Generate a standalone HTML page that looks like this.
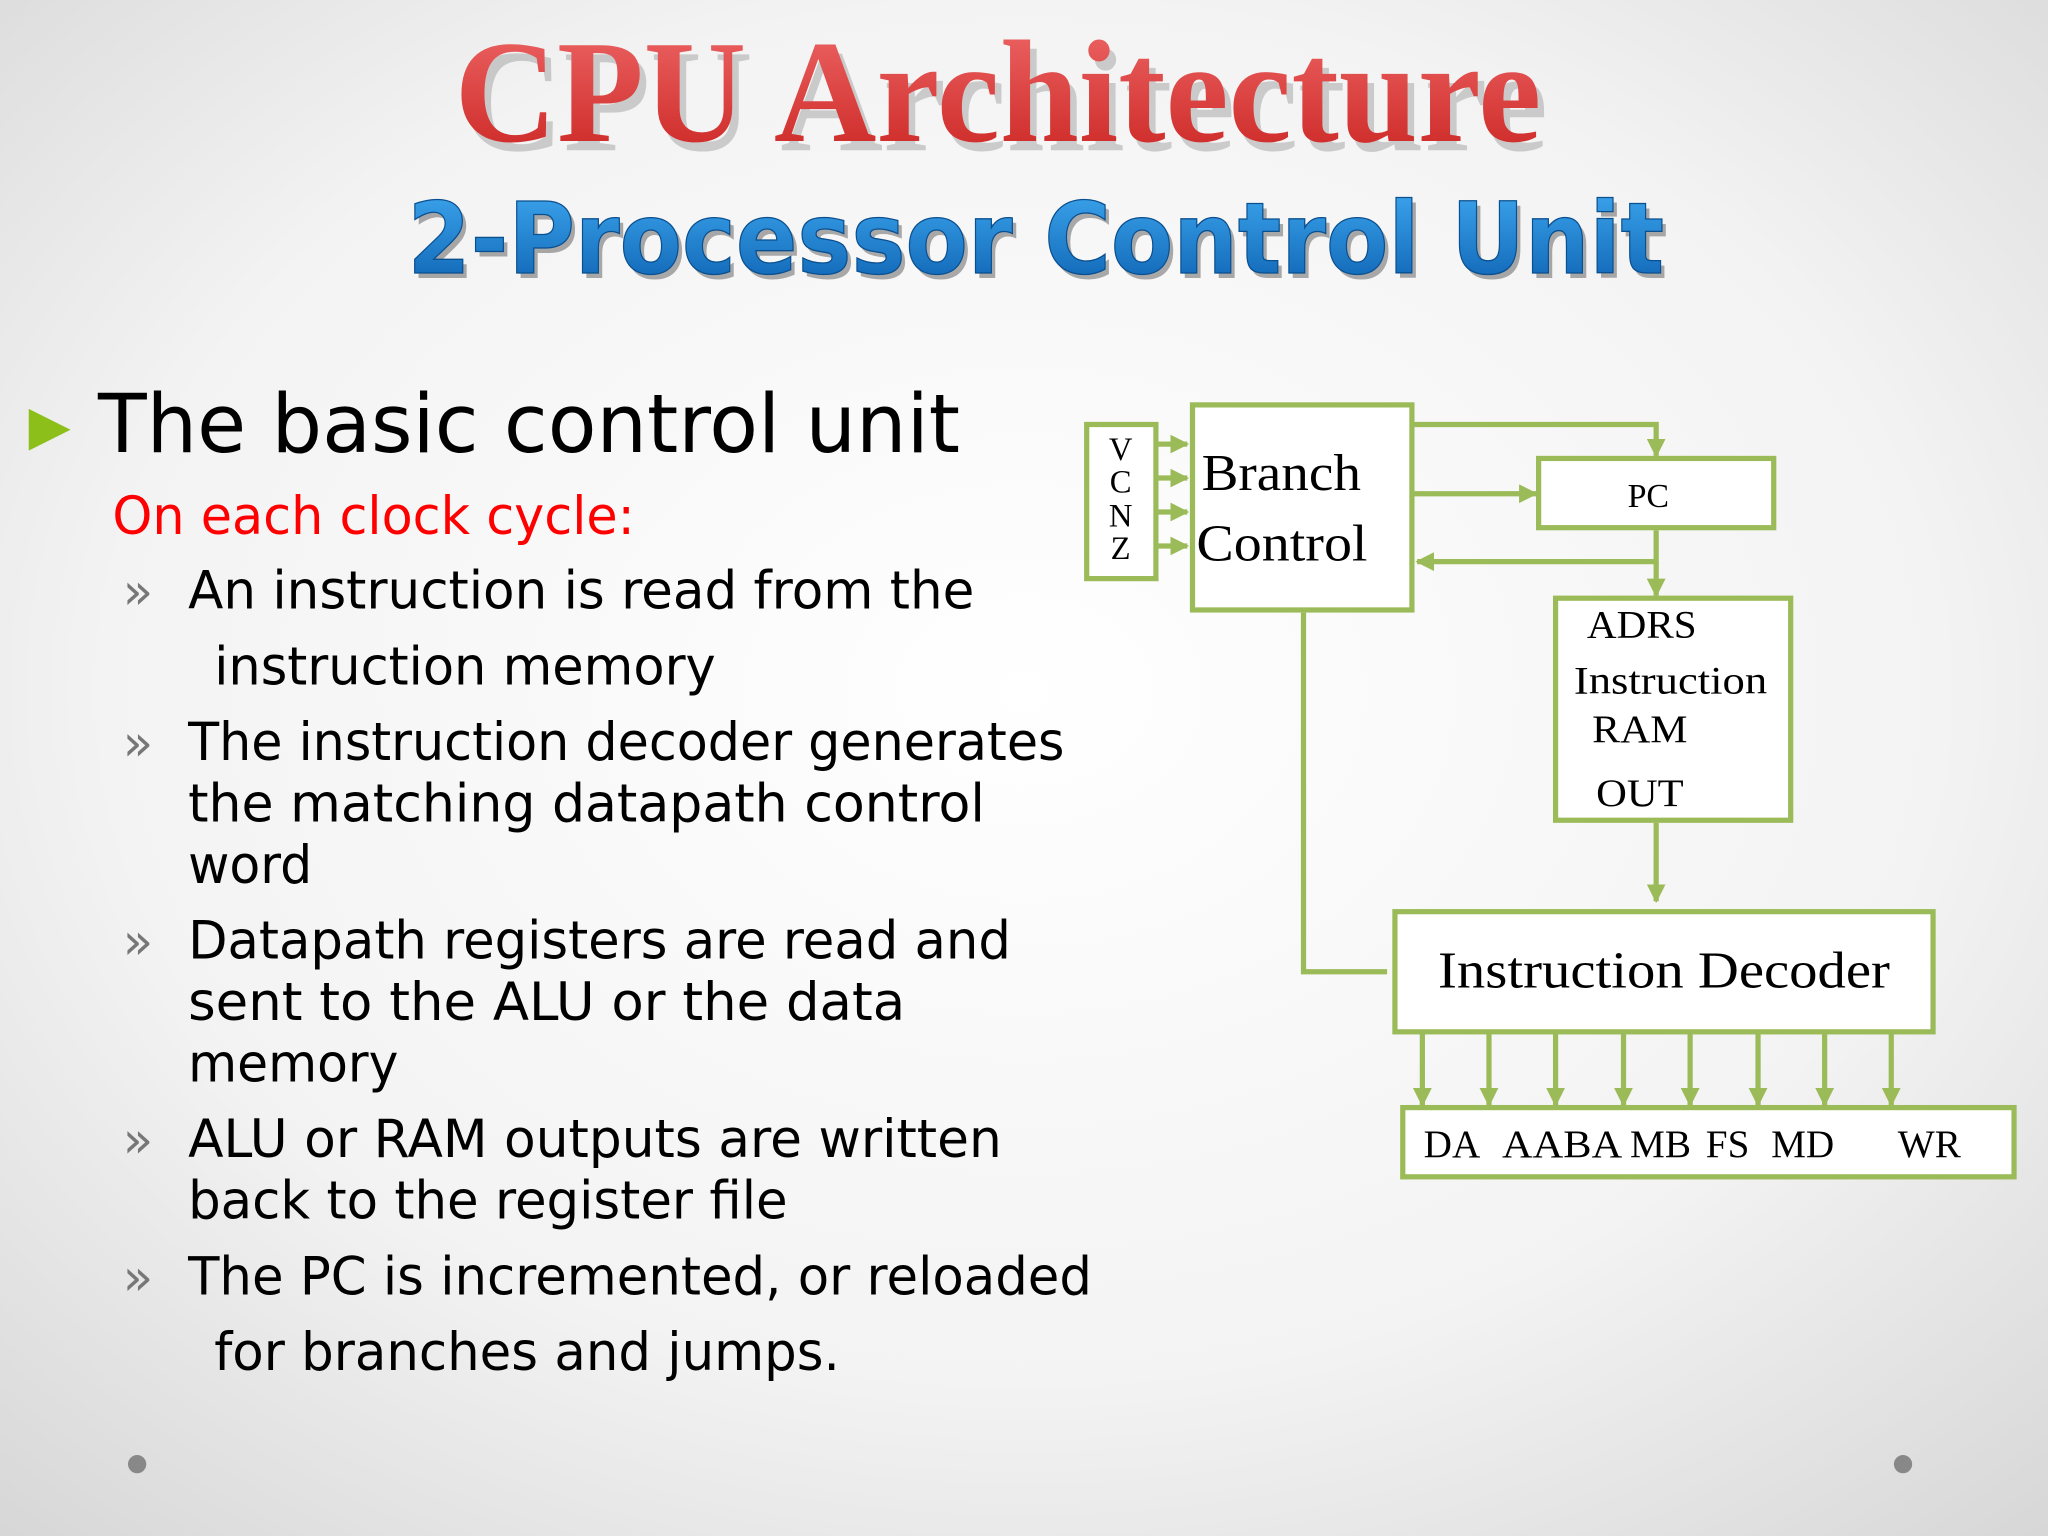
<!DOCTYPE html>
<html><head><meta charset="utf-8"><style>
html,body{margin:0;padding:0;width:2048px;height:1536px;overflow:hidden}
svg{display:block}
</style></head><body>
<svg width="2048" height="1536" viewBox="0 0 1568 1176" xmlns="http://www.w3.org/2000/svg">
<defs>
<radialGradient id="bg" cx="50%" cy="45%" r="75%">
<stop offset="0" stop-color="#ffffff"/><stop offset="0.6" stop-color="#f3f3f3"/><stop offset="1" stop-color="#d6d6d6"/>
</radialGradient>
<linearGradient id="red" x1="0" y1="0" x2="0" y2="1">
<stop offset="0" stop-color="#ef6a6a"/><stop offset="1" stop-color="#c9221f"/>
</linearGradient>
<linearGradient id="blue" x1="0" y1="0" x2="0" y2="1">
<stop offset="0" stop-color="#3fa9f0"/><stop offset="1" stop-color="#0b5fb0"/>
</linearGradient>
<marker id="ar" viewBox="0 0 10 10" refX="9" refY="5" markerWidth="3.6" markerHeight="3.6" orient="auto" markerUnits="strokeWidth">
<path d="M0,0 L10,5 L0,10 z" fill="#9bbb59"/></marker>
</defs>
<rect width="1568" height="1176" fill="url(#bg)"/>

<g font-family="Liberation Serif, serif" font-weight="bold">
<text x="350" y="111" font-size="112" fill="#999" opacity="0.45" textLength="832" lengthAdjust="spacingAndGlyphs" transform="translate(3,4)">CPU Architecture</text>
<text x="348" y="108" font-size="112" fill="url(#red)" textLength="832" lengthAdjust="spacingAndGlyphs">CPU Architecture</text>
</g>
<g font-family="DejaVu Sans, Liberation Sans, sans-serif" font-weight="bold">
<text x="315" y="213" font-size="76" fill="#333" opacity="0.4" textLength="962" lengthAdjust="spacingAndGlyphs">2-Processor Control Unit</text>
<text x="312" y="209" font-size="76" fill="url(#blue)" stroke="#0a4f8f" stroke-width="1" textLength="962" lengthAdjust="spacingAndGlyphs">2-Processor Control Unit</text>
</g>

<polygon points="22,313 54,329 22,345" fill="#8cbf1a"/>
<g font-family="DejaVu Sans, Liberation Sans, sans-serif">
<text x="75" y="346" font-size="62" fill="#000" textLength="660" lengthAdjust="spacingAndGlyphs">The basic control unit</text>
<text x="86" y="409" font-size="40" fill="#f00" textLength="400" lengthAdjust="spacingAndGlyphs">On each clock cycle:</text>
<g font-size="40" fill="#000">
<text x="144" y="466" textLength="602" lengthAdjust="spacingAndGlyphs">An instruction is read from the</text>
<text x="164" y="524" textLength="384" lengthAdjust="spacingAndGlyphs">instruction memory</text>
<text x="144" y="582" textLength="671" lengthAdjust="spacingAndGlyphs">The instruction decoder generates</text>
<text x="144" y="629" textLength="610" lengthAdjust="spacingAndGlyphs">the  matching datapath control</text>
<text x="144" y="676" textLength="95" lengthAdjust="spacingAndGlyphs">word</text>
<text x="144" y="734" textLength="630" lengthAdjust="spacingAndGlyphs">Datapath registers are read and</text>
<text x="144" y="781" textLength="549" lengthAdjust="spacingAndGlyphs">sent  to the ALU or the data</text>
<text x="144" y="828" textLength="161" lengthAdjust="spacingAndGlyphs">memory</text>
<text x="144" y="886" textLength="623" lengthAdjust="spacingAndGlyphs">ALU or RAM outputs are written</text>
<text x="144" y="933" textLength="459" lengthAdjust="spacingAndGlyphs">back to the register file</text>
<text x="144" y="991" textLength="692" lengthAdjust="spacingAndGlyphs">The PC is incremented, or reloaded</text>
<text x="164" y="1049" textLength="479" lengthAdjust="spacingAndGlyphs">for branches and jumps.</text>
</g>
<g font-size="38" fill="#777">
<text x="94" y="466">»</text><text x="94" y="582">»</text><text x="94" y="734">»</text><text x="94" y="886">»</text><text x="94" y="991">»</text>
</g>
</g>
<circle cx="105" cy="1121" r="7" fill="#888"/>
<circle cx="1457" cy="1121" r="7" fill="#888"/>

<g fill="#fff" stroke="#9bbb59" stroke-width="4">
<rect x="832" y="325" width="53" height="118"/>
<rect x="913" y="310" width="168" height="157"/>
<rect x="1178" y="351" width="180" height="53"/>
<rect x="1191" y="458" width="180" height="170"/>
<rect x="1068" y="698" width="412" height="92"/>
<rect x="1074" y="848" width="468" height="53"/>
</g>
<g fill="none" stroke="#9bbb59" stroke-width="4">
<line x1="887" y1="340" x2="909" y2="340" marker-end="url(#ar)"/>
<line x1="887" y1="366" x2="909" y2="366" marker-end="url(#ar)"/>
<line x1="887" y1="392" x2="909" y2="392" marker-end="url(#ar)"/>
<line x1="887" y1="418" x2="909" y2="418" marker-end="url(#ar)"/>
<polyline points="1083,325 1268,325 1268,349" marker-end="url(#ar)"/>
<line x1="1083" y1="378" x2="1176" y2="378" marker-end="url(#ar)"/>
<polyline points="1268,406 1268,430 1085,430" marker-end="url(#ar)"/>
<line x1="1268" y1="430" x2="1268" y2="456" marker-end="url(#ar)"/>
<line x1="1268" y1="630" x2="1268" y2="690" marker-end="url(#ar)"/>
<polyline points="998,469 998,744 1062,744"/>
<line x1="1089" y1="790" x2="1089" y2="846" marker-end="url(#ar)"/>
<line x1="1140" y1="790" x2="1140" y2="846" marker-end="url(#ar)"/>
<line x1="1191" y1="790" x2="1191" y2="846" marker-end="url(#ar)"/>
<line x1="1243" y1="790" x2="1243" y2="846" marker-end="url(#ar)"/>
<line x1="1294" y1="790" x2="1294" y2="846" marker-end="url(#ar)"/>
<line x1="1346" y1="790" x2="1346" y2="846" marker-end="url(#ar)"/>
<line x1="1397" y1="790" x2="1397" y2="846" marker-end="url(#ar)"/>
<line x1="1448" y1="790" x2="1448" y2="846" marker-end="url(#ar)"/>
</g>
<g font-family="Liberation Serif, serif" fill="#000">
<g font-size="25" text-anchor="middle">
<text x="858" y="352">V</text><text x="858" y="377">C</text><text x="858" y="403">N</text><text x="858" y="428">Z</text>
</g>
<text x="920" y="375" font-size="40" textLength="122" lengthAdjust="spacingAndGlyphs">Branch</text>
<text x="916" y="429" font-size="40" textLength="131" lengthAdjust="spacingAndGlyphs">Control</text>
<text x="1262" y="388" font-size="26" text-anchor="middle">PC</text>
<text x="1215" y="488" font-size="30" textLength="84" lengthAdjust="spacingAndGlyphs">ADRS</text>
<text x="1205" y="531" font-size="30" textLength="148" lengthAdjust="spacingAndGlyphs">Instruction</text>
<text x="1219" y="568" font-size="30" textLength="73" lengthAdjust="spacingAndGlyphs">RAM</text>
<text x="1222" y="617" font-size="30" textLength="67" lengthAdjust="spacingAndGlyphs">OUT</text>
<text x="1101" y="756" font-size="40" textLength="346" lengthAdjust="spacingAndGlyphs">Instruction Decoder</text>
<g font-size="30">
<text x="1090" y="886">DA</text><text x="1150" y="886" textLength="92" lengthAdjust="spacingAndGlyphs">AABA</text><text x="1248" y="886">MB</text><text x="1306" y="886">FS</text><text x="1356" y="886">MD</text><text x="1453" y="886">WR</text>
</g>
</g>
</svg>
</body></html>
